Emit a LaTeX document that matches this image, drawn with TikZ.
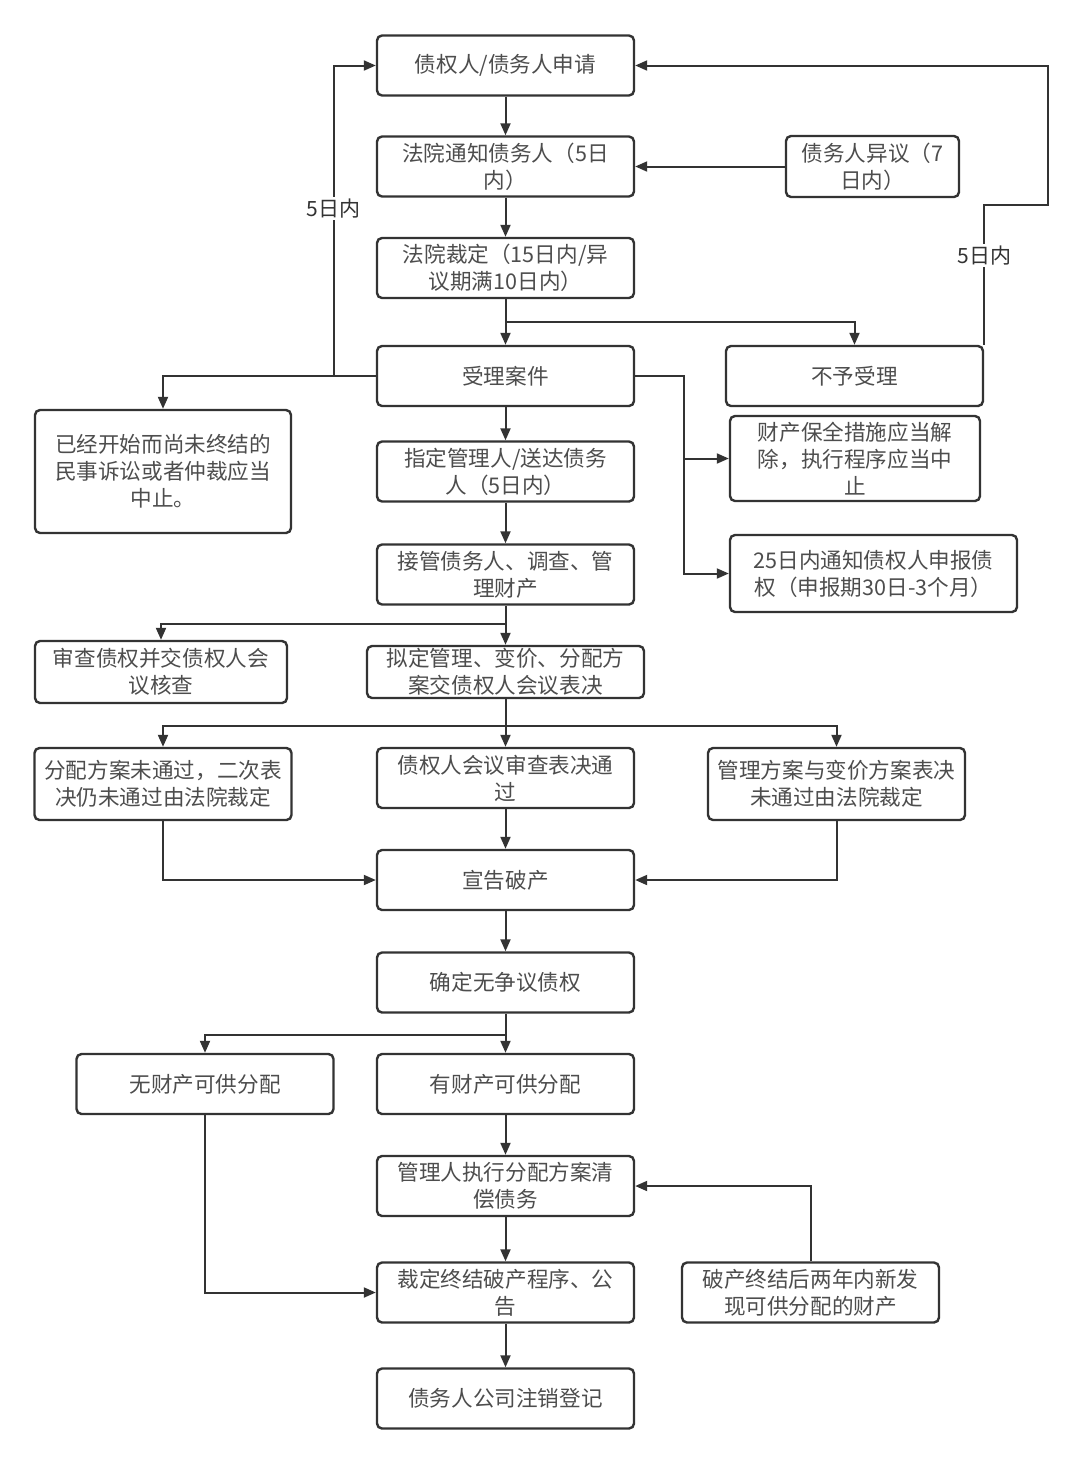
\documentclass[tikz,border=0pt]{standalone}
\usepackage{fontspec}
\newfontfamily\cjk{Noto Sans CJK SC}
\usetikzlibrary{arrows.meta,calc}
\definecolor{linec}{HTML}{333333}
\definecolor{txtc}{HTML}{4D4D4D}
\tikzset{
  box/.style={draw=linec, line width=1.2pt, rounded corners=2.5pt, fill=white, text=txtc, align=center, inner sep=0pt, font=\cjk\fontsize{10.8}{13.5}\selectfont, minimum width=128.5pt, minimum height=30pt},
  arr/.style={draw=linec, line width=1pt, -{Triangle[length=6pt,width=5pt]}},
  lbl/.style={fill=white, text=linec, inner sep=1pt, font=\cjk\fontsize{10.5}{12}\selectfont}
}
\begin{document}
\begin{tikzpicture}[x=0.5pt,y=-0.5pt]
  \useasboundingbox (0,0) rectangle (1080,1463);
  % main column
  \node[box] (apply) at (505.5,65.5) {债权人/债务人申请};
  \node[box] (notify) at (505.5,166.5) {法院通知债务人（5日\\内）};
  \node[box] (ruling) at (505.5,268) {法院裁定（15日内/异\\议期满10日内）};
  \node[box] (accept) at (505.5,376) {受理案件};
  \node[box] (appoint) at (505.5,471.5) {指定管理人/送达债务\\人（5日内）};
  \node[box] (takeover) at (505.5,574.5) {接管债务人、调查、管\\理财产};
  \node[box, minimum width=138.5pt, minimum height=26pt] (plan) at (505.5,672) {拟定管理、变价、分配方\\案交债权人会议表决};
  \node[box] (pass) at (505.5,778) {债权人会议审查表决通\\过};
  \node[box] (bankrupt) at (505.5,880) {宣告破产};
  \node[box] (confirm) at (505.5,982.5) {确定无争议债权};
  \node[box] (hasprop) at (505.5,1084) {有财产可供分配};
  \node[box] (execute) at (505.5,1186) {管理人执行分配方案清\\偿债务};
  \node[box] (close) at (505.5,1292.5) {裁定终结破产程序、公\\告};
  \node[box] (deregister) at (505.5,1398.5) {债务人公司注销登记};
  % side boxes
  \node[box, minimum width=86.5pt, minimum height=30.5pt] (objection) at (872.5,166.5) {债务人异议（7\\日内）};
  \node[box] (reject) at (854.5,376) {不予受理};
  \node[box, minimum width=128pt, minimum height=61.5pt] (suspend) at (163,471.5) {已经开始而尚未终结的\\民事诉讼或者仲裁应当\\中止。};
  \node[box, minimum width=125pt, minimum height=42.5pt] (release) at (855,458.5) {财产保全措施应当解\\除，执行程序应当中\\止};
  \node[box, minimum width=143.5pt, minimum height=38.5pt] (notice) at (873.5,573.5) {25日内通知债权人申报债\\权（申报期30日-3个月）};
  \node[box, minimum width=126pt, minimum height=31pt] (examine) at (161,672) {审查债权并交债权人会\\议核查};
  \node[box, minimum height=36pt] (failone) at (163,784) {分配方案未通过，二次表\\决仍未通过由法院裁定};
  \node[box, minimum height=36pt] (failtwo) at (836.5,784) {管理方案与变价方案表决\\未通过由法院裁定};
  \node[box] (noprop) at (205,1084) {无财产可供分配};
  \node[box] (found) at (810.5,1292.5) {破产终结后两年内新发\\现可供分配的财产};
  % straight connectors
  \draw[arr] (apply) -- (notify);
  \draw[arr] (notify) -- (ruling);
  \draw[arr] (ruling) -- (accept);
  \draw[arr] (accept) -- (appoint);
  \draw[arr] (appoint) -- (takeover);
  \draw[arr] (takeover) -- (plan);
  \draw[arr] (plan) -- (pass);
  \draw[arr] (pass) -- (bankrupt);
  \draw[arr] (bankrupt) -- (confirm);
  \draw[arr] (confirm) -- (hasprop);
  \draw[arr] (hasprop) -- (execute);
  \draw[arr] (execute) -- (close);
  \draw[arr] (close) -- (deregister);
  \draw[arr] (objection) -- (notify);
  % branches
  \draw[arr] (ruling.south) -- ++(0,23) -| (reject.north);
  \draw[arr] (reject.north east) -- node[lbl,pos=0.64]{5日内} ++(0,-140) -- ++(64,0) |- (apply.east);
  \draw[arr] (accept.west) -- ++(-42,0) |- node[lbl,pos=0.27]{5日内} (apply.west);
  \draw[arr] (accept.west) -| (suspend.north);
  \draw[arr] (accept.east) -- ++(49,0) |- (notice.west);
  \draw[arr] ($(accept.east)+(49,0)$) |- (release.west);
  \draw[arr] ($(takeover.south)+(0,18)$) -| (examine.north);
  \draw[arr] ($(plan.south)+(0,27)$) -| (failone.north);
  \draw[arr] ($(plan.south)+(0,27)$) -| (failtwo.north);
  \draw[arr] (failone.south) |- (bankrupt.west);
  \draw[arr] (failtwo.south) |- (bankrupt.east);
  \draw[arr] ($(confirm.south)+(0,21)$) -| (noprop.north);
  \draw[arr] (noprop.south) |- (close.west);
  \draw[arr] (found.north) |- (execute.east);
\end{tikzpicture}
\end{document}
